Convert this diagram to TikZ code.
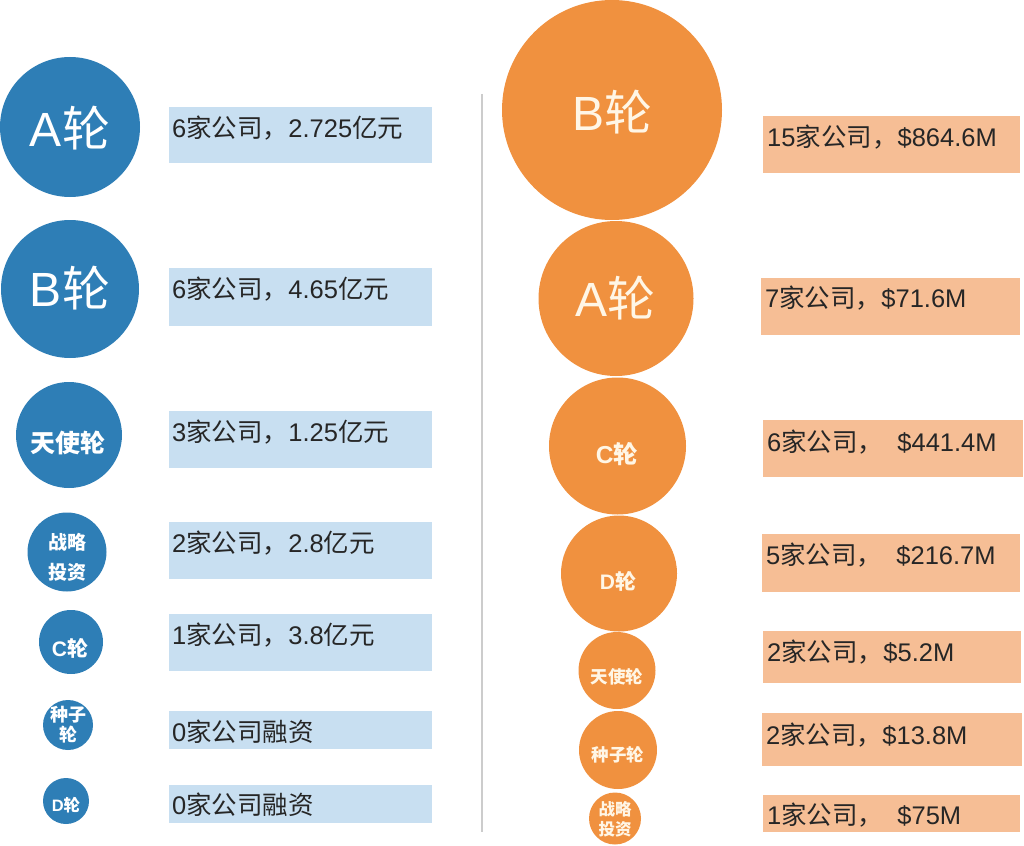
\documentclass[tikz,border=0pt]{standalone}
\usepackage{fontspec}
\setmainfont{Liberation Sans}
\newfontfamily\cjkfont{Noto Sans CJK SC}
\newcommand{\zh}[1]{{\cjkfont #1}}
\usetikzlibrary{positioning}
\definecolor{roundblue}{HTML}{2E7EB6}
\definecolor{barblue}{HTML}{C8DFF1}
\definecolor{roundorange}{HTML}{F0913F}
\definecolor{barorange}{HTML}{F6BE95}
\definecolor{infotext}{HTML}{262626}
\definecolor{creamtext}{HTML}{FFF6E6}
\tikzset{
    blue_circ/.style={circle, fill=roundblue, inner sep=0pt},
    orange_circ/.style={circle, fill=roundorange, inner sep=0pt},
    blue_rec/.style={rectangle, fill=barblue, anchor=north west, inner sep=0pt},
    orange_rec/.style={rectangle, fill=barorange, anchor=north west, inner sep=0pt},
    info_text/.style={anchor=west, inner sep=0pt, text=infotext, font=\fontsize{25.5}{30}\selectfont},
    big_label/.style={inner sep=0pt, text=white, font=\fontsize{48}{56}\selectfont},
    small_label/.style={inner sep=0pt, text=white, align=center},
    divider/.style={draw=black!20, line width=1.2pt},
}
\begin{document}
\begin{tikzpicture}[x=1pt, y=-1pt]
      \useasboundingbox (0,0) rectangle (1024,845);
      %%%%%%%%%%%%%%%%%
      % LEFT: CIRCLES %
      %%%%%%%%%%%%%%%%%
      \node (left_A) [blue_circ, minimum size=140pt] at (70,127) {};
      \node (left_B) [blue_circ, minimum size=138pt] at (70,289) {};
      \node (left_angel) [blue_circ, minimum size=106pt] at (69,435) {};
      \node (left_strat) [blue_circ, minimum size=79pt] at (67,552) {};
      \node (left_C) [blue_circ, minimum size=64pt] at (71,642) {};
      \node (left_seed) [blue_circ, minimum size=50pt] at (68,725) {};
      \node (left_D) [blue_circ, minimum size=46pt] at (66,801) {};

      \node (left_A_txt) [big_label] at (70,128) {A\zh{轮}};
      \node (left_B_txt) [big_label] at (70,288) {B\zh{轮}};
      \node (left_angel_txt) [small_label, font=\bfseries\fontsize{25}{30}\selectfont]
            at (68,443) {\zh{天使轮}};
      \node (left_strat_txt) [small_label, font=\bfseries\fontsize{19}{30}\selectfont]
            at (67,557) {\zh{战略}\\\zh{投资}};
      \node (left_C_txt) [small_label, font=\bfseries\fontsize{21}{25}\selectfont]
            at (70,648) {C\zh{轮}};
      \node (left_seed_txt) [small_label, font=\bfseries\fontsize{18}{20}\selectfont]
            at (68,725) {\zh{种子}\\\zh{轮}};
      \node (left_D_txt) [small_label, font=\bfseries\fontsize{16.5}{20}\selectfont]
            at (66,805) {D\zh{轮}};

      %%%%%%%%%%%%%%
      % LEFT: BARS %
      %%%%%%%%%%%%%%
      \node (left_bar_1) [blue_rec, minimum width=263pt, minimum height=56pt] at (169,107) {};
      \node (left_bar_2) [blue_rec, minimum width=263pt, minimum height=58pt] at (169,268) {};
      \node (left_bar_3) [blue_rec, minimum width=263pt, minimum height=57pt] at (169,411) {};
      \node (left_bar_4) [blue_rec, minimum width=263pt, minimum height=57pt] at (169,522) {};
      \node (left_bar_5) [blue_rec, minimum width=263pt, minimum height=57pt] at (169,614) {};
      \node (left_bar_6) [blue_rec, minimum width=263pt, minimum height=38pt] at (169,711) {};
      \node (left_bar_7) [blue_rec, minimum width=263pt, minimum height=38pt] at (169,785) {};

      \node (left_info_1) [info_text] at ([xshift=3pt, yshift=-21pt]left_bar_1.north west)
            {6\zh{家公司，}2.725\zh{亿元}};
      \node (left_info_2) [info_text] at ([xshift=3pt, yshift=-21pt]left_bar_2.north west)
            {6\zh{家公司，}4.65\zh{亿元}};
      \node (left_info_3) [info_text] at ([xshift=3pt, yshift=-21pt]left_bar_3.north west)
            {3\zh{家公司，}1.25\zh{亿元}};
      \node (left_info_4) [info_text] at ([xshift=3pt, yshift=-21pt]left_bar_4.north west)
            {2\zh{家公司，}2.8\zh{亿元}};
      \node (left_info_5) [info_text] at ([xshift=3pt, yshift=-21pt]left_bar_5.north west)
            {1\zh{家公司，}3.8\zh{亿元}};
      \node (left_info_6) [info_text] at ([xshift=3pt, yshift=-21pt]left_bar_6.north west)
            {0\zh{家公司融资}};
      \node (left_info_7) [info_text] at ([xshift=3pt, yshift=-20pt]left_bar_7.north west)
            {0\zh{家公司融资}};

      %%%%%%%%%%%
      % DIVIDER %
      %%%%%%%%%%%
      \coordinate (div_top) at (482,94);
      \coordinate (div_bot) at (482,832);
      \draw [divider] (div_top) -- (div_bot);

      %%%%%%%%%%%%%%%%%%
      % RIGHT: CIRCLES %
      %%%%%%%%%%%%%%%%%%
      \node (right_B) [orange_circ, minimum size=220pt] at (612,110) {};
      \node (right_A) [orange_circ, minimum size=155pt] at (616,298.5) {};
      \node (right_C) [orange_circ, minimum size=137pt] at (617.5,446) {};
      \node (right_D) [orange_circ, minimum size=116pt] at (619,573.5) {};
      \node (right_angel) [orange_circ, minimum size=77pt] at (617,670.5) {};
      \node (right_seed) [orange_circ, minimum size=78pt] at (618,750) {};
      \node (right_strat) [orange_circ, minimum size=52pt] at (615,818.5) {};

      \node (right_B_txt) [big_label, text=creamtext] at (612,112) {B\zh{轮}};
      \node (right_A_txt) [big_label, text=creamtext] at (615,298) {A\zh{轮}};
      \node (right_C_txt) [small_label, text=creamtext, font=\bfseries\fontsize{24.5}{28}\selectfont]
            at (617,454) {C\zh{轮}};
      \node (right_D_txt) [small_label, text=creamtext, font=\bfseries\fontsize{21}{25}\selectfont]
            at (618,581) {D\zh{轮}};
      \node (right_angel_txt) [small_label, text=creamtext, font=\bfseries\fontsize{17.5}{20}\selectfont]
            at (617,677) {\zh{天使轮}};
      \node (right_seed_txt) [small_label, text=creamtext, font=\bfseries\fontsize{17.5}{20}\selectfont]
            at (618,755) {\zh{种子轮}};
      \node (right_strat_txt) [small_label, text=creamtext, font=\bfseries\fontsize{16.5}{20}\selectfont]
            at (615,819) {\zh{战略}\\\zh{投资}};

      %%%%%%%%%%%%%%%
      % RIGHT: BARS %
      %%%%%%%%%%%%%%%
      \node (right_bar_1) [orange_rec, minimum width=257pt, minimum height=57pt] at (763,116) {};
      \node (right_bar_2) [orange_rec, minimum width=259pt, minimum height=57pt] at (761,278) {};
      \node (right_bar_3) [orange_rec, minimum width=260pt, minimum height=57pt] at (763,420) {};
      \node (right_bar_4) [orange_rec, minimum width=258pt, minimum height=58pt] at (762,534) {};
      \node (right_bar_5) [orange_rec, minimum width=258pt, minimum height=52pt] at (763,631) {};
      \node (right_bar_6) [orange_rec, minimum width=260pt, minimum height=53pt] at (762,713) {};
      \node (right_bar_7) [orange_rec, minimum width=257pt, minimum height=37pt] at (763,795) {};

      \node (right_info_1) [info_text] at ([xshift=4pt, yshift=-21pt]right_bar_1.north west)
            {15\zh{家公司，}\$864.6M};
      \node (right_info_2) [info_text] at ([xshift=4pt, yshift=-20pt]right_bar_2.north west)
            {7\zh{家公司，}\$71.6M};
      \node (right_info_3) [info_text] at ([xshift=4pt, yshift=-22pt]right_bar_3.north west)
            {6\zh{家公司，}\hspace{.55em}\$441.4M};
      \node (right_info_4) [info_text] at ([xshift=4pt, yshift=-21pt]right_bar_4.north west)
            {5\zh{家公司，}\hspace{.55em}\$216.7M};
      \node (right_info_5) [info_text] at ([xshift=4pt, yshift=-21pt]right_bar_5.north west)
            {2\zh{家公司，}\$5.2M};
      \node (right_info_6) [info_text] at ([xshift=4pt, yshift=-22pt]right_bar_6.north west)
            {2\zh{家公司，}\$13.8M};
      \node (right_info_7) [info_text] at ([xshift=4pt, yshift=-20pt]right_bar_7.north west)
            {1\zh{家公司，}\hspace{.55em}\$75M};
   \end{tikzpicture}
\end{document}
